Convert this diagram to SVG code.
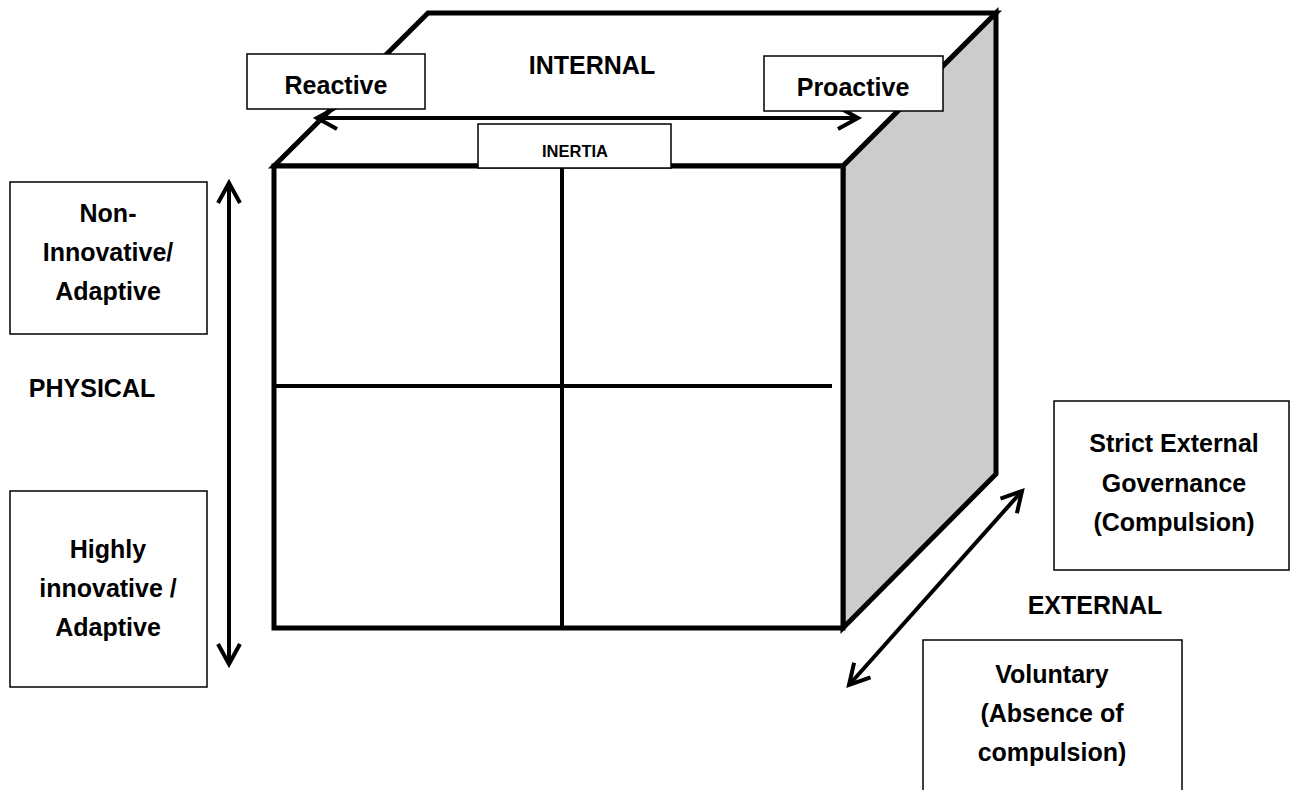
<svg xmlns="http://www.w3.org/2000/svg" width="1290" height="790" viewBox="0 0 1290 790">
<style>
.edge{stroke:#000;stroke-width:5;stroke-linejoin:miter}
.div{stroke:#000;stroke-width:4;fill:none}
.box{fill:#fff;stroke:#000;stroke-width:1.5}
.lbl{font-family:"Liberation Sans",Arial,sans-serif;font-weight:bold;font-size:25px;fill:#000;text-anchor:middle}
.sm{font-size:16.5px}
.arr{stroke:#000;stroke-width:4;fill:none;marker-start:url(#chev);marker-end:url(#chev)}
</style>
<defs>
<marker id="chev" markerUnits="userSpaceOnUse" viewBox="-26 -16 30 32" refX="0" refY="0" markerWidth="30" markerHeight="32" orient="auto-start-reverse" overflow="visible">
<path d="M -20 -11 L 0 0 L -20 11" fill="none" stroke="#000" stroke-width="4" stroke-linejoin="miter"/>
</marker>
</defs>
<rect width="1290" height="790" fill="#fff"/>
<g id="cube">
<polygon class="edge" fill="#fff" points="274,166 428,13 996,13 843,166"/>
<polygon class="edge" fill="#cccccc" points="843,166 996,13 996,474 843,628"/>
<rect class="edge" fill="#fff" x="274" y="166" width="569" height="462"/>
<line class="div" x1="562" y1="166" x2="562" y2="628"/>
<line class="div" x1="274" y1="386" x2="832" y2="386"/>
</g>
<g id="connectors">
<line class="arr" x1="317" y1="118" x2="858" y2="118"/>
<line class="arr" x1="229" y1="183" x2="229" y2="664"/>
<line class="arr" x1="849" y1="685" x2="1022" y2="491"/>
</g>
<g id="internal-label"><text class="lbl" x="592" y="74">INTERNAL</text></g>
<g id="node-reactive"><rect class="box" x="247" y="54" width="178" height="55"/><text class="lbl" x="336" y="94">Reactive</text></g>
<g id="node-proactive"><rect class="box" x="764" y="56" width="179" height="55"/><text class="lbl" x="853" y="96">Proactive</text></g>
<g id="node-inertia"><rect class="box" x="478" y="124" width="193" height="44"/><text class="lbl sm" x="575" y="157">INERTIA</text></g>
<g id="node-non-innovative"><rect class="box" x="10" y="182" width="197" height="152"/>
<text class="lbl" x="108" y="222">Non-</text><text class="lbl" x="108" y="261">Innovative/</text><text class="lbl" x="108" y="300">Adaptive</text></g>
<g id="physical-label"><text class="lbl" x="92" y="397">PHYSICAL</text></g>
<g id="node-highly-innovative"><rect class="box" x="10" y="491" width="197" height="196"/>
<text class="lbl" x="108" y="558">Highly</text><text class="lbl" x="108" y="597">innovative /</text><text class="lbl" x="108" y="636">Adaptive</text></g>
<g id="node-strict"><rect class="box" x="1054" y="401" width="235" height="169"/>
<text class="lbl" x="1174" y="452">Strict External</text><text class="lbl" x="1174" y="492">Governance</text><text class="lbl" x="1174" y="531">(Compulsion)</text></g>
<g id="external-label"><text class="lbl" x="1095" y="614">EXTERNAL</text></g>
<g id="node-voluntary"><rect class="box" x="923" y="640" width="259" height="170"/>
<text class="lbl" x="1052" y="683">Voluntary</text><text class="lbl" x="1052" y="722">(Absence of</text><text class="lbl" x="1052" y="761">compulsion)</text></g>
</svg>
